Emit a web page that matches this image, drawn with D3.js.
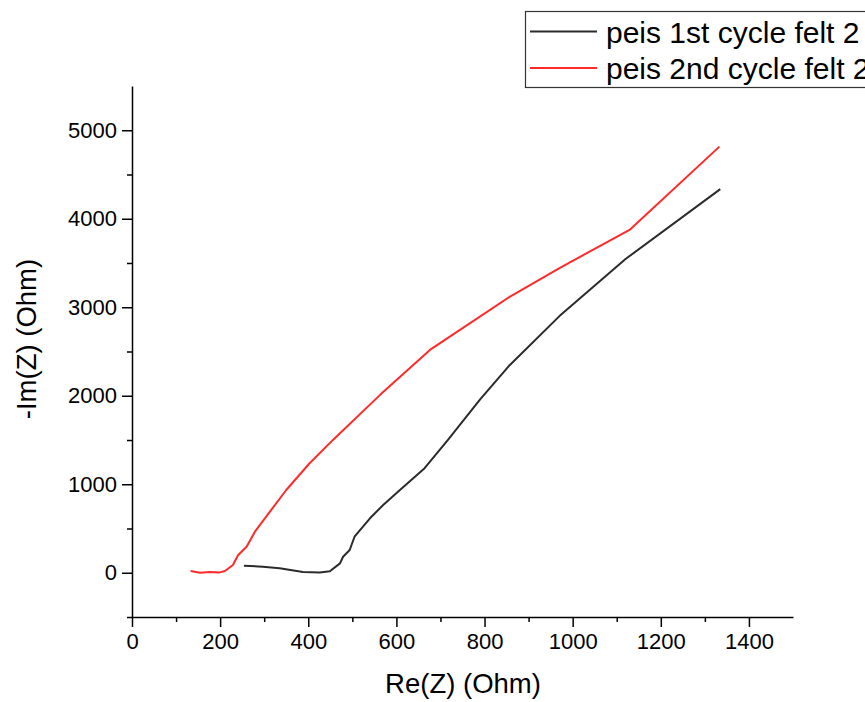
<!DOCTYPE html>
<html>
<head>
<meta charset="utf-8">
<script src="https://cdn.jsdelivr.net/npm/d3@7"></script>
<style>
  body { margin: 0; background: #fff; }
  svg { display: block; font-family: "Liberation Sans", Arial, sans-serif; }
</style>
</head>
<body>
<div id="chart"></div>
<script>
// Nyquist data: Re(Z), -Im(Z) in Ohm
const cycle1Re = [254, 297, 335, 388, 426, 449, 472, 479, 494, 505, 540, 570, 608, 664, 717, 790, 857, 970, 1120, 1335];
const cycle1Im = [80, 68, 50, 8, 4, 16, 106, 181, 257, 407, 615, 766, 935, 1181, 1501, 1960, 2345, 2900, 3545, 4335];
const cycle2Re = [133, 154, 177, 199, 211, 229, 241, 260, 279, 313, 350, 403, 456, 563, 676, 857, 970, 1129, 1333];
const cycle2Im = [19, 0, 8, 4, 19, 87, 200, 294, 464, 690, 935, 1237, 1501, 2010, 2518, 3117, 3443, 3874, 4815];

const seriesNames = ["peis 1st cycle felt 2", "peis 2nd cycle felt 2"];
const seriesColors = ["#2b2b2b", "#ff2a2a"];

const xTicks = [0, 200, 400, 600, 800, 1000, 1200, 1400];
const yTicks = [0, 1000, 2000, 3000, 4000, 5000];

const width = 865, height = 702;

const svg = d3.select("#chart").append("svg")
    .attr("width", width)
    .attr("height", height);

// Scales
const x = d3.scaleLinear().domain([0, 1500]).range([132, 793]);
const y = d3.scaleLinear().domain([-500, 5500]).range([617, 86]);

// Minor ticks first
svg.append("g")
    .attr("transform", `translate(0,${y(-500)})`)
    .call(d3.axisBottom(x).tickValues(d3.range(100, 1500, 200)).tickSize(5).tickFormat(""))
    .call(g => g.select(".domain").remove())
    .selectAll("line").attr("stroke", "#000").attr("stroke-width", 1.5);

svg.append("g")
    .attr("transform", `translate(${x(0)},0)`)
    .call(d3.axisLeft(y).tickValues(d3.range(-500, 5500, 1000)).tickSize(5).tickFormat(""))
    .call(g => g.select(".domain").remove())
    .selectAll("line").attr("stroke", "#000").attr("stroke-width", 1.5);

// Major axes
const xAxis = svg.append("g")
    .attr("transform", `translate(0,${y(-500)})`)
    .call(d3.axisBottom(x).tickValues(xTicks).tickSize(10).tickSizeOuter(0)
        .tickPadding(6).tickFormat(d3.format("d")));
xAxis.select(".domain").attr("stroke", "#000").attr("stroke-width", 1.5);
xAxis.selectAll("line").attr("stroke", "#000").attr("stroke-width", 1.5);
xAxis.selectAll("text")
    .attr("fill", "#000")
    .style("font-size", "22px")
    .style("font-family", "Liberation Sans, Arial, sans-serif");

const yAxis = svg.append("g")
    .attr("transform", `translate(${x(0)},0)`)
    .call(d3.axisLeft(y).tickValues(yTicks).tickSize(10).tickSizeOuter(0)
        .tickPadding(5).tickFormat(d3.format("d")));
yAxis.select(".domain").attr("stroke", "#000").attr("stroke-width", 1.5);
yAxis.selectAll("line").attr("stroke", "#000").attr("stroke-width", 1.5);
yAxis.selectAll("text")
    .attr("fill", "#000")
    .style("font-size", "22px")
    .style("font-family", "Liberation Sans, Arial, sans-serif");

// Axis titles
svg.append("text")
    .attr("x", 463)
    .attr("y", 693)
    .attr("text-anchor", "middle")
    .style("font-size", "27.5px")
    .text("Re(Z) (Ohm)");

svg.append("text")
    .attr("transform", "translate(36,339) rotate(-90)")
    .attr("text-anchor", "middle")
    .style("font-size", "27.5px")
    .text("-Im(Z) (Ohm)");

// Lines
const line = d3.line()
    .x(d => x(d[0]))
    .y(d => y(d[1]));

const series = [
    d3.zip(cycle1Re, cycle1Im),
    d3.zip(cycle2Re, cycle2Im)
];

series.forEach((pts, i) => {
    svg.append("path")
        .datum(pts)
        .attr("fill", "none")
        .attr("stroke", seriesColors[i])
        .attr("stroke-width", 2)
        .attr("stroke-linejoin", "round")
        .attr("d", line);
});

// Legend
const legend = svg.append("g");
legend.append("rect")
    .attr("x", 525.5)
    .attr("y", 11.5)
    .attr("width", 360)
    .attr("height", 76)
    .attr("fill", "#fff")
    .attr("stroke", "#333")
    .attr("stroke-width", 1.2);

seriesNames.forEach((name, i) => {
    const yy = 31.5 + i * 36.5;
    legend.append("line")
        .attr("x1", 530).attr("x2", 597)
        .attr("y1", yy).attr("y2", yy)
        .attr("stroke", seriesColors[i])
        .attr("stroke-width", 2);
    legend.append("text")
        .attr("x", 606)
        .attr("y", yy + 11)
        .style("font-size", "30px")
        .attr("fill", "#000")
        .text(name);
});
</script>
</body>
</html>
